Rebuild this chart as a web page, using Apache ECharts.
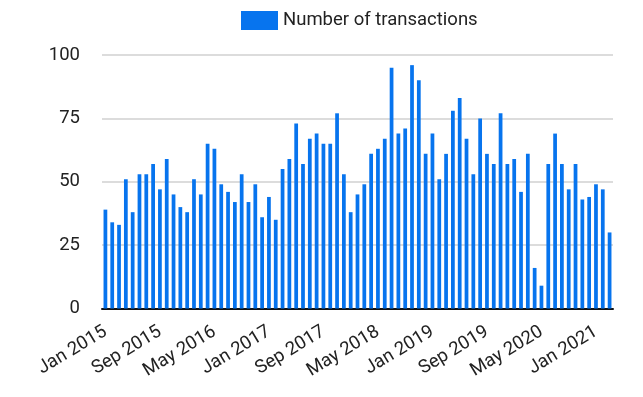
<!DOCTYPE html>
<html>
<head>
<meta charset="utf-8">
<script src="https://cdn.jsdelivr.net/npm/echarts@6/dist/echarts.min.js"></script>
<style>
  html, body { margin: 0; padding: 0; background: #fff; }
  #chart { width: 643px; height: 397px; }
</style>
</head>
<body>
<div id="chart"></div>
<script>
  // monthly categories, Jan 2015 .. Mar 2021
  var monthNames = ["Jan", "Feb", "Mar", "Apr", "May", "Jun", "Jul", "Aug", "Sep", "Oct", "Nov", "Dec"];
  var years = [2015, 2016, 2017, 2018, 2019, 2020, 2021];
  var months = [];
  years.forEach(function (y) {
    monthNames.forEach(function (m) { months.push(m + " " + y); });
  });
  months = months.slice(0, 75);

  var transactions = [
    39, 34, 33, 51, 38, 53, 53, 57, 47, 59,
    45, 40, 38, 51, 45, 65, 63, 49, 46, 42,
    53, 42, 49, 36, 44, 35, 55, 59, 73, 57,
    67, 69, 65, 65, 77, 53, 38, 45, 49, 61,
    63, 67, 95, 69, 71, 96, 90, 61, 69, 51,
    61, 78, 83, 67, 53, 75, 61, 57, 77, 57,
    59, 46, 61, 16, 9, 57, 69, 57, 47, 57,
    43, 44, 49, 47, 30
  ];

  var yTicks = [0, 25, 50, 75, 100];

  var chart = echarts.init(document.getElementById("chart"));
  chart.setOption({
    animation: false,
    textStyle: { fontFamily: "Roboto" },
    legend: {
      left: 236,
      top: 6,
      itemWidth: 37,
      itemHeight: 19,
      itemGap: 10,
      icon: "rect",
      textStyle: { fontSize: 18.5, color: "#222", fontFamily: "Roboto" },
      data: ["Number of transactions"]
    },
    grid: {
      left: 102,
      right: 30,
      top: 55,
      bottom: 88.5
    },
    xAxis: {
      type: "category",
      data: months,
      axisLine: { lineStyle: { color: "#111", width: 2 } },
      axisTick: { show: false },
      axisLabel: {
        interval: 7,
        rotate: 31,
        fontSize: 18.5,
        color: "#222",
        margin: 22
      }
    },
    yAxis: {
      type: "value",
      min: yTicks[0],
      max: yTicks[yTicks.length - 1],
      interval: 25,
      axisLine: { show: false },
      axisTick: { show: false },
      axisLabel: { fontSize: 18.5, color: "#222", margin: 22 },
      splitLine: { lineStyle: { color: "#d0d0d0", width: 1.5 } }
    },
    series: [{
      name: "Number of transactions",
      type: "bar",
      data: transactions,
      barCategoryGap: "45%",
      itemStyle: { color: "#0774ee" }
    }]
  });
</script>
</body>
</html>
